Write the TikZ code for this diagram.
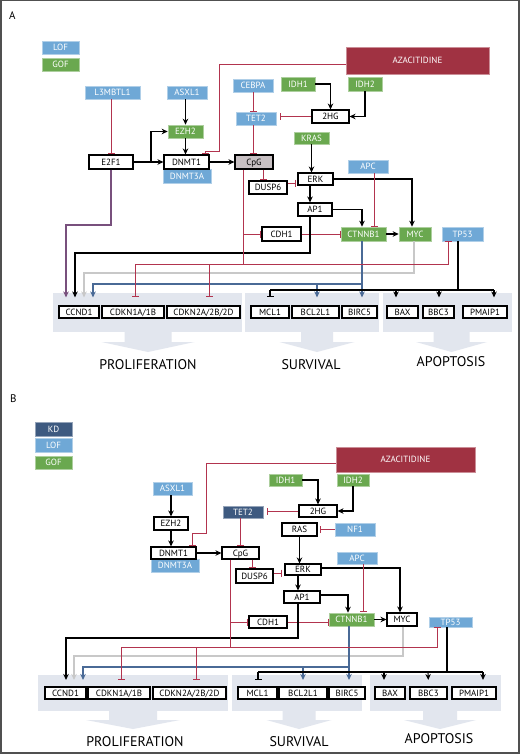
\documentclass[tikz,border=0pt]{standalone}
\usepackage{fontspec}
\setmainfont{PT Sans}
\usetikzlibrary{arrows.meta,calc}
\definecolor{lofc}{RGB}{111,168,214}
\definecolor{gofc}{RGB}{106,168,79}
\definecolor{kdc}{RGB}{62,90,128}
\definecolor{azac}{RGB}{160,50,66}
\definecolor{redl}{RGB}{178,52,78}
\definecolor{purl}{RGB}{120,80,125}
\definecolor{grayl}{RGB}{200,200,200}
\definecolor{bluel}{RGB}{74,106,150}
\definecolor{bandc}{RGB}{226,230,238}
\definecolor{cpgc}{RGB}{200,192,195}
\definecolor{framec}{RGB}{80,80,80}
\newcommand\bx[7]{\node[#6, minimum width={(#4-#2)*1pt}, minimum height={(#5-#3)*1pt}] (#1) at ({(#2+#4)/2},{(#3+#5)/2}) {#7};}
\newcommand\fatarr[6]{\fill[bandc] ({#1-#3},#2) -- ({#1-#3},{#2+#5}) -- ({#1-#4},{#2+#5}) -- (#1,{#2+#5+#6}) -- ({#1+#4},{#2+#5}) -- ({#1+#3},{#2+#5}) -- ({#1+#3},#2) -- cycle;}
\tikzset{
  base/.style={inner sep=0pt, font=\fontsize{9}{10}\selectfont, text height=6.4pt, text depth=0pt},
  wbox/.style={base, draw=black, line width=1.1pt, fill=white},
  cpgbox/.style={base, draw=black, line width=1.1pt, fill=cpgc},
  lofbox/.style={base, fill=lofc, draw=lofc!55!white, line width=0.6pt, text=white},
  gofbox/.style={base, fill=gofc, draw=gofc!55!white, line width=0.6pt, text=white},
  kdbox/.style={base, fill=kdc, draw=kdc!55!white, line width=0.6pt, text=white},
  azabox/.style={base, fill=azac, draw=azac!55!white, line width=0.8pt, text=white},
  act/.style={draw=black, line width=1.1pt, -{Stealth[length=6pt,width=5.5pt]}},
  blk/.style={draw=black, line width=1.1pt},
  inh/.style={draw=redl, line width=1pt, -{Bar[width=7pt,line width=1pt]}},
  inhk/.style={draw=black, line width=1.1pt, -{Bar[width=7pt,line width=1.1pt]}},
  redln/.style={draw=redl, line width=1pt},
  purp/.style={draw=purl, line width=1.1pt, -{Stealth[length=6pt,width=5.5pt]}},
  grya/.style={draw=grayl, line width=1.1pt, -{Stealth[length=6pt,width=5.5pt]}},
  blua/.style={draw=bluel, line width=1.1pt, -{Stealth[length=6pt,width=5.5pt]}},
  bluln/.style={draw=bluel, line width=1.1pt},
  outA/.style={shorten >=8pt},
  outB/.style={shorten >=6.5pt},
  big/.style={font=\fontsize{14}{16}\selectfont, anchor=base, inner sep=0pt},
  plabel/.style={font=\fontsize{11}{12}\selectfont, anchor=base west, inner sep=0pt}
}
\begin{document}
\begin{tikzpicture}[x=1pt,y=-1pt]
\useasboundingbox (0,0) rectangle (520,754);
\fill[white] (0,0) rectangle (520,754);
\draw[framec, line width=2pt] (1,0.5) rectangle (518.5,753);

%%%%%%%%%%%%%%%% PANEL A
\node[plabel] (labA) at (9,20) {A};
% bands
\fill[bandc] (53,293) rectangle (242,332);
\fill[bandc] (245,293) rectangle (379,332);
\fill[bandc] (383,293) rectangle (512,332);
\fatarr{148}{332}{23.5}{46.5}{10}{10}
\fatarr{317}{332}{16}{37.5}{10}{10}
\fatarr{451.5}{332}{18}{35.5}{10}{10}
\node[big] (prolA) at (148,369) {PROLIFERATION};
\node[big] (survA) at (311,369) {SURVIVAL};
\node[big] (apopA) at (451,366) {APOPTOSIS};

\bx{LOFa}{42}{41}{79}{54}{lofbox}{LOF}
\bx{GOFa}{42}{58}{79}{71}{gofbox}{GOF}
\bx{L3a}{85}{86}{140}{99}{lofbox}{L3MBTL1}
\bx{ASXLa}{167}{86}{207}{99}{lofbox}{ASXL1}
\bx{EZH2a}{168}{125}{203}{138}{gofbox}{EZH2}
\bx{E2F1a}{89}{155}{133}{169}{wbox}{E2F1}
\bx{DNMT3Aa}{163}{169}{211}{183}{lofbox}{DNMT3A}
\bx{DNMT1a}{164}{155}{209}{169}{wbox}{DNMT1}
\bx{CpGa}{235}{155}{273}{169}{cpgbox}{CpG}
\bx{CEBPAa}{233}{79}{273}{92}{lofbox}{CEBPA}
\bx{TET2a}{236}{112}{276}{125}{lofbox}{TET2}
\bx{IDH1a}{281}{77}{315}{91}{gofbox}{IDH1}
\bx{IDH2a}{348}{77}{382}{91}{gofbox}{IDH2}
\bx{HGa}{312}{110}{349}{123}{wbox}{2HG}
\bx{KRASa}{294}{132}{329}{144}{gofbox}{KRAS}
\bx{AZAa}{346}{47}{489}{74}{azabox}{AZACITIDINE}
\bx{APCa}{348}{160}{388}{173}{lofbox}{APC}
\bx{ERKa}{298}{173}{333}{185}{wbox}{ERK}
\bx{DUSP6a}{249}{181}{287}{194}{wbox}{DUSP6}
\bx{AP1a}{298}{203}{332}{216}{wbox}{AP1}
\bx{CDH1a}{262}{227}{301}{241}{wbox}{CDH1}
\bx{CTNNB1a}{341}{227}{386}{241}{gofbox}{CTNNB1}
\bx{MYCa}{399}{227}{431}{241}{gofbox}{MYC}
\bx{TP53a}{442}{227}{483}{241}{lofbox}{TP53}
\bx{ccA}{59}{306}{99}{318}{wbox}{CCND1}
\bx{cdk1A}{102}{306}{164}{318}{wbox}{CDKN1A/1B}
\bx{cdk2A}{167}{306}{240}{318}{wbox}{CDKN2A/2B/2D}
\bx{mclA}{251}{306}{289}{318}{wbox}{MCL1}
\bx{bclA}{292}{306}{339}{318}{wbox}{BCL2L1}
\bx{bircA}{342}{306}{377}{318}{wbox}{BIRC5}
\bx{baxA}{387}{306}{418}{318}{wbox}{BAX}
\bx{bbcA}{423}{306}{454}{318}{wbox}{BBC3}
\bx{pmaA}{463}{306}{507}{318}{wbox}{PMAIP1}

% connectors A
\draw[inh] (E2F1a.north |- L3a.south) -- (E2F1a.north);
\draw[act] (E2F1a.east) -- (DNMT1a.west);
\coordinate (jA1) at (151,162);
\draw[act] (jA1) |- (EZH2a.west);
\draw[act] (EZH2a.north |- ASXLa.south) -- (EZH2a.north);
\draw[act] (EZH2a.south) -- (EZH2a.south |- DNMT1a.north);
\draw[act] (DNMT1a.east) -- (CpGa.west);
\draw[inh] ([yshift=-4.5pt]AZAa.west) -| (219,152) -| ([xshift=18.5pt]DNMT1a.north);
\draw[inh] (CEBPAa.south) -- (CEBPAa.south |- TET2a.north);
\draw[inh] ([xshift=-3pt]TET2a.south) -- ([xshift=-3pt]TET2a.south |- CpGa.north);
\draw[act] (IDH1a.east) -| (HGa.north);
\draw[act] (IDH2a.south) |- (HGa.east);
\draw[inh, shorten >=4pt] (HGa.west) -- (HGa.west -| TET2a.east);
\draw[act] (KRASa.south) -- (KRASa.south |- ERKa.north);
\draw[inh] ([xshift=9pt]CpGa.south) -- ([xshift=9pt]CpGa.south |- DUSP6a.north);
\draw[inh, shorten >=1pt] ([yshift=4.5pt]DUSP6a.east) -- ([yshift=4.5pt]DUSP6a.east -| ERKa.west);
\draw[act] ([xshift=-5.5pt]ERKa.south) -- ([xshift=-5.5pt]ERKa.south |- AP1a.north);
\draw[act] (ERKa.east) -| ([xshift=-3pt]MYCa.north);
\draw[act] (AP1a.east) -| ([xshift=-1.5pt]CTNNB1a.north);
\draw[inh] ([xshift=6pt]APCa.south) -- ([xshift=6pt]APCa.south |- CTNNB1a.north);
\draw[act] (CTNNB1a.east) -- (MYCa.west);
\draw[inh] (243,234) -- (CDH1a.west);
\draw[inh] (CDH1a.east) -- (CTNNB1a.west);
% outputs A
\draw[purp, outA] (E2F1a.south) -- (111,225) -| ([xshift=-13pt]ccA.north);
\draw[act, outA] ([xshift=-5pt]AP1a.south) -- (310,253) -| ([xshift=-4pt]ccA.north);
\draw[grya, outA] ([xshift=-1pt]MYCa.south) -- (414,273) -| ([xshift=5pt]ccA.north);
\draw[blua, outA] ([xshift=-1.5pt]CTNNB1a.south) -- ([xshift=2.5pt]bircA.north);
\draw[blua, outA] (362,284) -| ([xshift=14pt]ccA.north);
\draw[blua, outA] (317,284) -- ([xshift=1.5pt]bclA.north);
\draw[redln] ([xshift=-11pt]CpGa.south) -- (243,264);
\draw[redln] (135,264) -- (243,264);
\draw[inh] (243,264) -| ([xshift=-14.5pt]TP53a.south);
\draw[inh, outA] (135,264) -- ([xshift=2pt]cdk1A.north);
\draw[inh, outA] (209,264) -- ([xshift=5.5pt]cdk2A.north);
\draw[blk] ([xshift=-4.5pt]TP53a.south) -- (458,290);
\draw[blk] (270,290) -- (494,290);
\draw[inhk, outA] (270,290) -- (mclA.north);
\draw[act, outA] (396,290) -- ([xshift=-6.5pt]baxA.north);
\draw[act, outA] (439,290) -- ([xshift=0.5pt]bbcA.north);
\draw[act, outA] (494,290) -- ([xshift=9pt]pmaA.north);

%%%%%%%%%%%%%%%% PANEL B
\node[plabel] (labB) at (10,402) {B};
\fill[bandc] (38,675) rectangle (228,711);
\fill[bandc] (232,675) rectangle (362,711);
\fill[bandc] (370,675) rectangle (501,711);
\fatarr{133}{711}{24}{47}{9}{9}
\fatarr{299}{711}{16.5}{32.5}{9}{9}
\fatarr{440}{711}{17}{36}{9}{9}
\node[big] (prolB) at (135,746) {PROLIFERATION};
\node[big] (survB) at (299,746) {SURVIVAL};
\node[big] (apopB) at (439,743) {APOPTOSIS};

\bx{KDb}{35}{422}{72}{436}{kdbox}{KD}
\bx{LOFb}{35}{438}{72}{452}{lofbox}{LOF}
\bx{GOFb}{35}{456}{72}{469}{gofbox}{GOF}
\bx{ASXLb}{153}{482}{192}{495}{lofbox}{ASXL1}
\bx{EZH2b}{154}{517}{188}{530}{wbox}{EZH2}
\bx{TET2b}{223}{506}{263}{518}{kdbox}{TET2}
\bx{AZAb}{336}{447}{475}{472}{azabox}{AZACITIDINE}
\bx{DNMT3Ab}{151}{559}{199}{572}{lofbox}{DNMT3A}
\bx{DNMT1b}{151}{547}{196}{559}{wbox}{DNMT1}
\bx{CpGb}{222}{547}{259}{559}{wbox}{CpG}
\bx{IDH1b}{269}{474}{302}{486}{gofbox}{IDH1}
\bx{IDH2b}{337}{474}{369}{486}{gofbox}{IDH2}
\bx{HGb}{299}{505}{337}{517}{wbox}{2HG}
\bx{RASb}{282}{523}{317}{536}{wbox}{RAS}
\bx{NF1b}{335}{523}{375}{536}{lofbox}{NF1}
\bx{ERKb}{285}{564}{321}{575}{wbox}{ERK}
\bx{DUSP6b}{236}{569}{273}{583}{wbox}{DUSP6}
\bx{APCb}{337}{552}{377}{564}{lofbox}{APC}
\bx{AP1b}{284}{591}{320}{603}{wbox}{AP1}
\bx{CTNNB1b}{329}{613}{374}{626}{gofbox}{CTNNB1}
\bx{MYCb}{387}{613}{417}{626}{wbox}{MYC}
\bx{CDH1b}{249}{616}{287}{628}{wbox}{CDH1}
\bx{TP53b}{429}{617}{472}{627}{lofbox}{TP53}
\bx{ccB}{45}{687}{86}{699}{wbox}{CCND1}
\bx{cdk1B}{88}{687}{150}{699}{wbox}{CDKN1A/1B}
\bx{cdk2B}{153}{687}{226}{699}{wbox}{CDKN2A/2B/2D}
\bx{mclB}{238}{687}{277}{699}{wbox}{MCL1}
\bx{bclB}{279}{687}{327}{699}{wbox}{BCL2L1}
\bx{bircB}{329}{687}{365}{699}{wbox}{BIRC5}
\bx{baxB}{375}{687}{405}{699}{wbox}{BAX}
\bx{bbcB}{410}{687}{447}{699}{wbox}{BBC3}
\bx{pmaB}{452}{687}{496}{699}{wbox}{PMAIP1}

% connectors B
\draw[act] (EZH2b.north |- ASXLb.south) -- (EZH2b.north);
\draw[act] (EZH2b.south) -- (EZH2b.south |- DNMT1b.north);
\draw[act] (DNMT1b.east) -- (CpGb.west);
\draw[inh] ([yshift=-3.5pt]AZAb.west) -| (206,533) -| ([xshift=18.5pt]DNMT1b.north);
\draw[inh] (CpGb.north |- TET2b.south) -- (CpGb.north);
\draw[act] (IDH1b.east) -| (HGb.north);
\draw[act] (IDH2b.south) |- (HGb.east);
\draw[inh, shorten >=4pt] (HGb.west) -- (HGb.west -| TET2b.east);
\draw[inh, shorten >=2pt] (NF1b.west) -- (RASb.east);
\draw[act] (RASb.south) -- (RASb.south |- ERKb.north);
\draw[inh] ([xshift=11.5pt]CpGb.south) -- ([xshift=11.5pt]CpGb.south |- DUSP6b.north);
\draw[inh, shorten >=2pt] ([yshift=3pt]DUSP6b.east) -- ([yshift=3pt]DUSP6b.east -| ERKb.west);
\draw[act] ([xshift=-5pt]ERKb.south) -- ([xshift=-5pt]ERKb.south |- AP1b.north);
\draw[act] ([yshift=1.5pt]ERKb.east) -| ([xshift=-2pt]MYCb.north);
\draw[act] ([yshift=2pt]AP1b.east) -| ([xshift=-3.5pt]CTNNB1b.north);
\draw[inh, shorten >=1pt] ([xshift=6pt]APCb.south) -- ([xshift=6pt]APCb.south |- CTNNB1b.north);
\draw[act] (CTNNB1b.east) -- (MYCb.west);
\draw[inh] (230,622) -- (CDH1b.west);
\draw[inh] (CDH1b.east) -- (CDH1b.east -| CTNNB1b.west);
% outputs B
\draw[act, outB] ([xshift=-4pt]AP1b.south) -- (298,638) -| ([xshift=0.5pt]ccB.north);
\draw[grya, outB] ([xshift=1pt]MYCb.south) -- (403,656) -| ([xshift=8.5pt]ccB.north);
\draw[blua, outB] ([xshift=-2.5pt]CTNNB1b.south) -- ([xshift=2pt]bircB.north);
\draw[blua, outB] (349,667) -| ([xshift=17.5pt]ccB.north);
\draw[blua, outB] (303,667) -- (bclB.north);
\draw[redln] ([xshift=-10.5pt]CpGb.south) -- (230,647);
\draw[redln] (121,647) -- (230,647);
\draw[inh] (230,647) -| ([xshift=-13.5pt]TP53b.south);
\draw[inh, outB] (121,647) -- ([xshift=2pt]cdk1B.north);
\draw[inh, outB] (196,647) -- ([xshift=6.5pt]cdk2B.north);
\draw[blk] ([xshift=-3.5pt]TP53b.south) -- (447,672);
\draw[blk] (258,672) -- (483,672);
\draw[inhk, outB] (258,672) -- ([xshift=0.5pt]mclB.north);
\draw[act, outB] (384,672) -- ([xshift=-6pt]baxB.north);
\draw[act, outB] (428,672) -- (bbcB.north);
\draw[act, outB] (483,672) -- ([xshift=9pt]pmaB.north);
\end{tikzpicture}
\end{document}
